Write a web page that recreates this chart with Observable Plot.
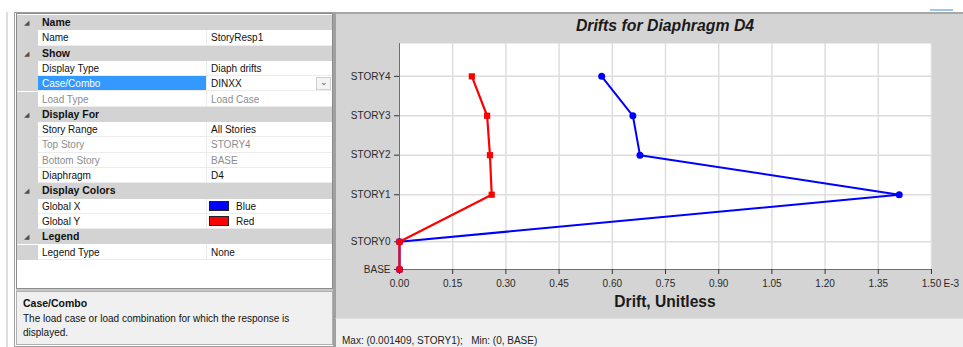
<!DOCTYPE html>
<html>
<head>
<meta charset="utf-8">
<script src="https://cdn.jsdelivr.net/npm/d3@7"></script>
<script src="https://cdn.jsdelivr.net/npm/@observablehq/plot@0.6"></script>
<style>
  html, body { margin: 0; padding: 0; background: #ffffff; }
  body { width: 963px; height: 347px; position: relative; overflow: hidden; font-family: "Liberation Sans", Arial, sans-serif; }
  .abs { position: absolute; box-sizing: border-box; }
  .txt { position: absolute; white-space: nowrap; font-size: 10px; line-height: 15px; color: #111; }
</style>
</head>
<body>
<div id="left"></div>
<div id="right" class="abs" style="left:335px; top:12px; width:628px; height:306px; background:#d4d4d4; border-left:1px solid #a0a0a0; border-top:2px solid #a8a8a8;"></div>
<div class="abs" style="left:335px; top:318px; width:628px; height:29px; background:#f0f0f0; border-left:1px solid #a0a0a0; border-top:1px solid #e0e0e0;"></div>
<div class="abs" style="left:930px; top:9px; width:23px; height:2px; background:#9cc6f2;"></div>
<div class="txt" style="left:342px; top:333px; font-size:10px; color:#222;">Max: (0.001409, STORY1);&nbsp;&nbsp; Min: (0, BASE)</div>
<div class="txt" style="left:465px; top:17px; width:400px; text-align:center; font-size:15.8px; line-height:18px; font-weight:bold; font-style:italic; color:#1a1a1a;">Drifts for Diaphragm D4</div>
<div class="txt" style="left:465px; top:293px; width:400px; text-align:center; font-size:15.6px; line-height:18px; font-weight:bold; color:#1a1a1a;">Drift, Unitless</div>
<script>
// ---- Chart data ----
const stories    = ["BASE", "STORY0", "STORY1", "STORY2", "STORY3", "STORY4"];
const elevations = [0, 2.11, 5.69, 8.70, 11.70, 14.70];
const globalX    = [0, 0, 1.409, 0.678, 0.658, 0.570];   // E-3, blue
const globalY    = [0, 0, 0.260, 0.255, 0.247, 0.204];   // E-3, red
const xTicks     = [0, 0.15, 0.30, 0.45, 0.60, 0.75, 0.90, 1.05, 1.20, 1.35, 1.50];
const xTickLabels = ["0.00", "0.15", "0.30", "0.45", "0.60", "0.75", "0.90", "1.05", "1.20", "1.35", "1.50"];
const xUnit = "E-3";
const yTop = 17.2;

// ---- Property grid data ----
const sectionHeaders = ["Name", "Show", "Display For", "Display Colors", "Legend"];
const sectionRows = [
  [["Name", "StoryResp1", ""]],
  [["Display Type", "Diaph drifts", ""], ["Case/Combo", "DINXX", "sel"], ["Load Type", "Load Case", "dis"]],
  [["Story Range", "All Stories", ""], ["Top Story", "STORY4", "dis"], ["Bottom Story", "BASE", "dis"], ["Diaphragm", "D4", ""]],
  [["Global X", "Blue", "blue"], ["Global Y", "Red", "red"]],
  [["Legend Type", "None", ""]]
];
const helpTitle = "Case/Combo";
const helpLines = ["The load case or load combination for which the response is", "displayed."];

// ---- Build property grid ----
const left = document.getElementById("left");
function el(style, text, cls) {
  const d = document.createElement("div");
  d.className = cls || "abs";
  d.setAttribute("style", style);
  if (text !== undefined) d.textContent = text;
  left.appendChild(d);
  return d;
}
el("left:6px; top:12px; width:2px; height:335px; background:#dedede;");
el("left:14px; top:12px; width:321px; height:335px; background:#ffffff; border:1px solid #a0a0a0; border-right:2px solid #a0a0a0;");
el("left:16px; top:13px; width:317px; height:276px; background:#ffffff; border:1px solid #8c8c8c;");
const rowH = 15.3;
let y = 15;
const gx0 = 17, gx1 = 332, gMargin = 38, gSplit = 206;
sectionHeaders.forEach((h, si) => {
  el(`left:${gx0}px; top:${y}px; width:${gx1 - gx0}px; height:${rowH}px; background:#d3d3d3;`);
  el(`left:24px; top:${y}px; font-size:7px; color:#505050;`, "\u25E2", "txt");
  el(`left:42px; top:${y}px; font-weight:bold; font-size:10.5px;`, h, "txt");
  y += rowH;
  sectionRows[si].forEach(([name, val, kind]) => {
    el(`left:${gx0}px; top:${y}px; width:${gMargin - gx0}px; height:${rowH}px; background:#d3d3d3;`);
    el(`left:${gMargin}px; top:${y}px; width:${gSplit - gMargin}px; height:${rowH}px; background:${kind === "sel" ? "#3399ff" : "#ffffff"}; border-bottom:1px solid #ececec;`);
    el(`left:${gSplit}px; top:${y}px; width:${gx1 - gSplit}px; height:${rowH}px; background:#ffffff; border-bottom:1px solid #ececec; border-left:1px solid #ececec;`);
    const nameColor = kind === "sel" ? "#ffffff" : (kind === "dis" ? "#8d8d8d" : "#111");
    const valColor = kind === "dis" ? "#8d8d8d" : "#111";
    el(`left:42px; top:${y}px; color:${nameColor};`, name, "txt");
    if (kind === "blue" || kind === "red") {
      el(`left:209px; top:${y + 2.5}px; width:20px; height:10px; background:${kind === "blue" ? "#0000ff" : "#ff0000"}; border:1px solid #222;`);
      el(`left:236px; top:${y}px; color:${valColor};`, val, "txt");
    } else {
      el(`left:211px; top:${y}px; color:${valColor};`, val, "txt");
    }
    if (kind === "sel") {
      el(`left:316px; top:${y + 1}px; width:15px; height:${rowH - 2}px; background:#f4f4f4; border:1px solid #d0d0d0;`);
      el(`left:320px; top:${y - 1}px; font-size:9px; color:#555;`, "\u2304", "txt");
    }
    y += rowH;
  });
});
el("left:16px; top:289px; width:317px; height:2px; background:#c8c8c8;");
el("left:16px; top:291px; width:317px; height:54px; background:#f0f0f0; border:1px solid #b0b0b0;");
el("left:23px; top:296px; font-weight:bold; font-size:10.5px;", helpTitle, "txt");
helpLines.forEach((t, i) => el(`left:23px; top:${311 + i * 14}px; font-size:10px;`, t, "txt"));

// ---- Chart ----
const rows = stories.map((s, i) => ({story: s, elev: elevations[i], gx: globalX[i], gy: globalY[i]}));
const labelOf = d => stories[elevations.indexOf(d)];
const chart = Plot.plot({
  width: 627,
  height: 305,
  marginLeft: 63,
  marginRight: 32,
  marginTop: 29,
  marginBottom: 50,
  style: {background: "transparent", fontFamily: "Liberation Sans, Arial, sans-serif", fontSize: "10px", color: "#2a2a2a"},
  x: {domain: [0, 1.5]},
  y: {domain: [0, yTop]},
  marks: [
    Plot.frame({fill: "#ffffff", stroke: "none"}),
    Plot.gridX(xTicks.slice(1), {stroke: "#dddddd", strokeOpacity: 1, strokeWidth: 1.5}),
    Plot.gridY(elevations.slice(1), {stroke: "#dddddd", strokeOpacity: 1, strokeWidth: 1.5}),
    Plot.ruleX([0], {stroke: "#ff3030", strokeWidth: 1}),
    Plot.ruleY([0], {stroke: "#ff3030", strokeWidth: 1}),
    Plot.axisY(elevations, {tickFormat: labelOf, tickSize: 5, tickPadding: 4, label: null, stroke: "#333"}),
    Plot.axisX(xTicks, {tickFormat: d => xTickLabels[xTicks.indexOf(d)], tickSize: 5, tickPadding: 5, label: null, stroke: "#333"}),
    Plot.text([xTicks[xTicks.length - 1]], {x: d => d, y: 0, text: () => xUnit, textAnchor: "start", dx: 12, dy: 14.5, fill: "#2a2a2a"}),
    Plot.line(rows, {x: "gx", y: "elev", stroke: "#0000ff", strokeWidth: 2}),
    Plot.dot(rows, {x: "gx", y: "elev", fill: "#0000ff", r: 3.5, stroke: "none"}),
    Plot.line(rows, {x: "gy", y: "elev", stroke: "#ff0000", strokeWidth: 2.2}),
    Plot.dot(rows, {x: "gy", y: "elev", fill: "#ff0000", r: 3.5, symbol: "square", stroke: "none"})
  ]
});
chart.style.position = "absolute";
chart.style.left = "0px";
chart.style.top = "0px";
document.getElementById("right").appendChild(chart);
</script>
</body>
</html>
